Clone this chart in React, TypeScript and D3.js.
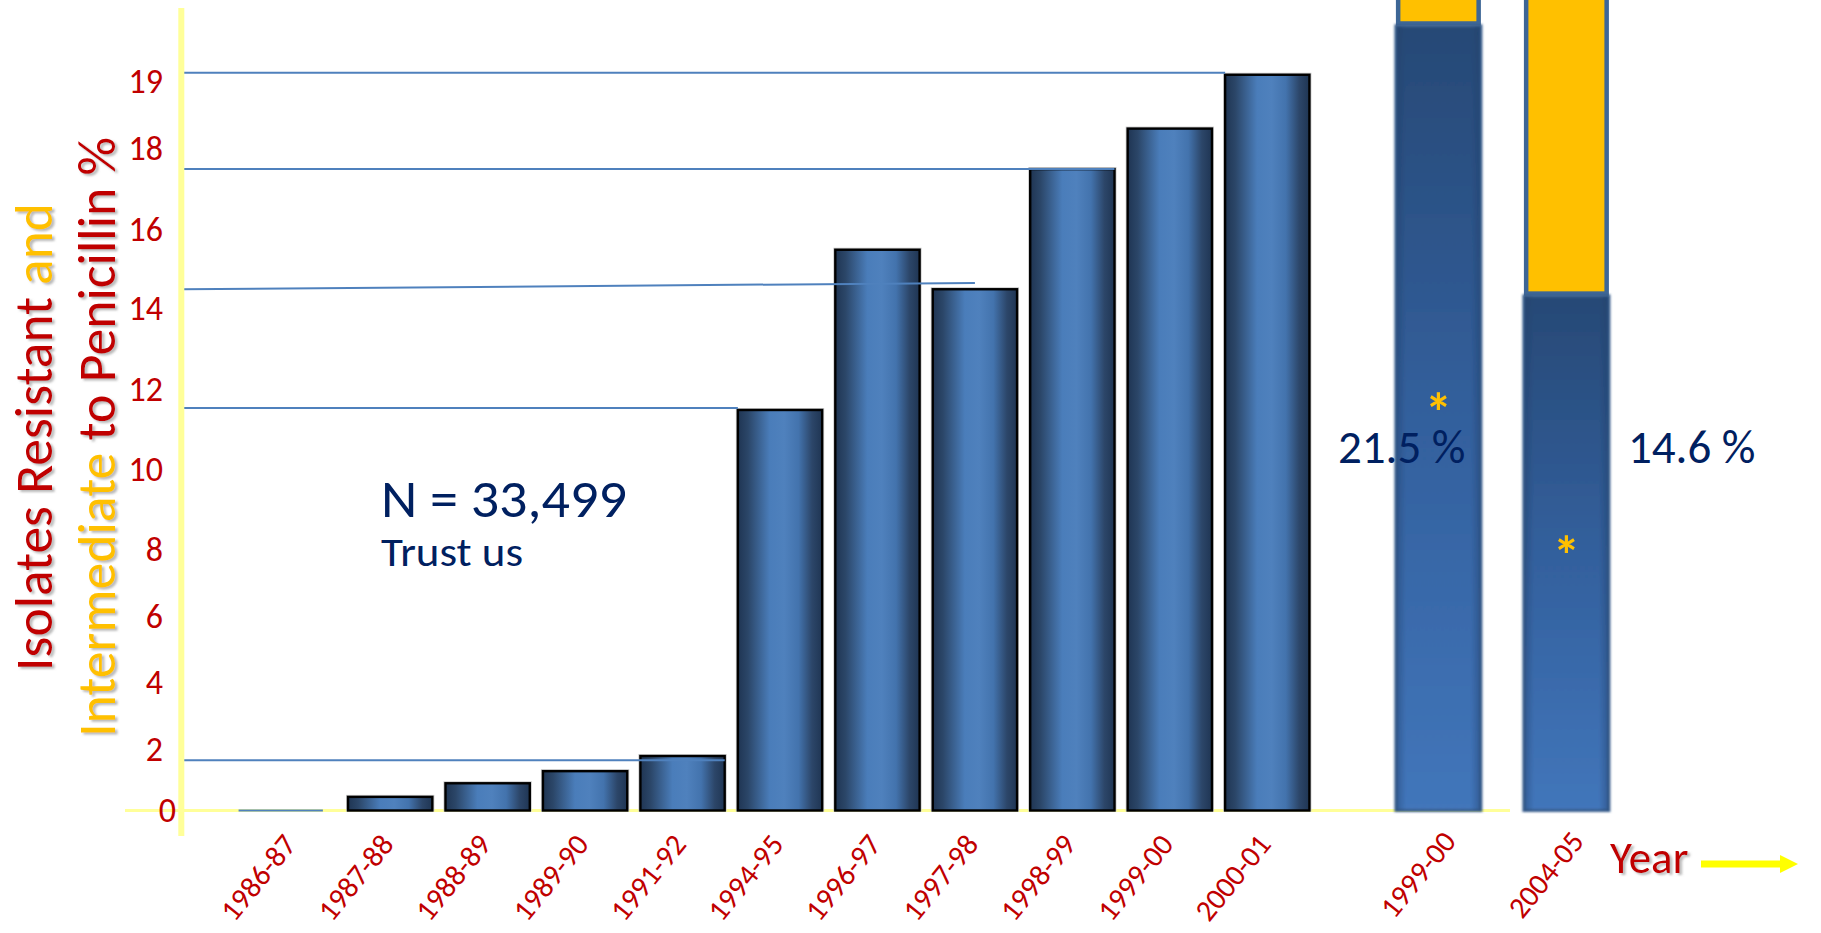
import React from 'react';
import * as d3 from 'd3';

// ---- data ----
const categories = ['1986-87', '1987-88', '1988-89', '1989-90', '1991-92', '1994-95', '1996-97', '1997-98', '1998-99', '1999-00', '2000-01'];
const values = [0, 0.45, 0.9, 1.3, 1.8, 11.5, 15.5, 14.5, 17.5, 18.3, 19.1];
const yTicks = [0, 2, 4, 6, 8, 10, 12, 14, 16, 18, 19];

// reference lines joining the axis to bar tops
const refLineCats = ['2000-01', '1998-99', '1997-98', '1994-95', '1991-92'];
const refLineFrom = [19.13, 17.5, 14.5, 11.55, 1.66];
const refLineTo = [19.13, 17.5, 14.66, 11.55, 1.66];
const refLineReach = [0, 1, 0.5, 0, 1];

// recent surveillance bars (resistant + intermediate)
const recentCats = ['1999-00', '2004-05'];
const recentResistant = [21.5, 14.1];
const recentIntermediate = [3.0, 16.6];
const recentLabels = ['21.5 %', '14.6 %'];
const asteriskCats = ['1999-00', '2004-05', '2004-05'];
const asteriskValues = [11.2, 7.3, 22.4];

const RED = '#C00000';
const GOLD = '#FFC000';
const NAVY = '#002060';
const FONT = "Carlito, 'Open Sans', 'Noto Sans', sans-serif";

export default function App() {
  const W = 1821;
  const H = 933;

  const y = d3
    .scaleLinear()
    .domain(yTicks)
    .range([810.5, 750, 683, 617, 550, 470, 390, 309, 230, 148.8, 81.5]);
  const x = d3.scaleBand().domain(categories).range([244, 1316]).paddingInner(0.135).paddingOuter(0.0675);
  const bw = x.bandwidth();

  const xR = d3.scaleBand().domain(recentCats).range([1374.4, 1630.4]).paddingInner(0.336).paddingOuter(0.168);
  const bwR = xR.bandwidth();
  const yR = d3.scaleLinear().domain([0, 20]).range([810.5, 80.5]);

  const axisX = 181.3;

  return (
    <svg
      width={W}
      height={H}
      viewBox={`0 0 ${W} ${H}`}
      style={{ position: 'absolute', left: 0, top: 0, background: '#fff', fontFamily: FONT }}
    >
      <defs>
        <linearGradient id="barGrad" x1="0" y1="0" x2="1" y2="0">
          <stop offset="0" stopColor="#1F3553" />
          <stop offset="0.12" stopColor="#2B4668" />
          <stop offset="0.38" stopColor="#4A7DBA" />
          <stop offset="0.55" stopColor="#4F81BD" />
          <stop offset="0.72" stopColor="#4373AD" />
          <stop offset="0.88" stopColor="#2C4669" />
          <stop offset="1" stopColor="#1F3553" />
        </linearGradient>
        <linearGradient id="blueV" x1="0" y1="0" x2="0" y2="1">
          <stop offset="0" stopColor="#284A77" />
          <stop offset="0.5" stopColor="#3462A0" />
          <stop offset="1" stopColor="#4479BF" />
        </linearGradient>
        <linearGradient id="edgeH" x1="0" y1="0" x2="1" y2="0">
          <stop offset="0" stopColor="#1d3a63" stopOpacity="0.45" />
          <stop offset="0.12" stopColor="#1d3a63" stopOpacity="0.05" />
          <stop offset="0.88" stopColor="#1d3a63" stopOpacity="0.05" />
          <stop offset="1" stopColor="#1d3a63" stopOpacity="0.45" />
        </linearGradient>
        <filter id="shadow" x="-10%" y="-10%" width="120%" height="120%">
          <feDropShadow dx="2.5" dy="2" stdDeviation="0.8" floodColor="#7f7f7f" floodOpacity="0.55" />
        </filter>
        <filter id="soft" x="-10%" y="-10%" width="120%" height="120%">
          <feGaussianBlur stdDeviation="0.8" />
        </filter>
      </defs>

      {/* y axis title */}
      <g filter="url(#shadow)">
        <text
          transform="translate(52,437) rotate(-90)"
          textAnchor="middle"
          fontSize={53}
          textLength={468}
          lengthAdjust="spacingAndGlyphs"
        >
          <tspan fill={RED}>Isolates Resistant </tspan>
          <tspan fill={GOLD}>and</tspan>
        </text>
        <text
          transform="translate(115,437) rotate(-90)"
          textAnchor="middle"
          fontSize={53}
          textLength={600}
          lengthAdjust="spacingAndGlyphs"
        >
          <tspan fill={GOLD}>Intermediate</tspan>
          <tspan fill={RED}> to Penicillin %</tspan>
        </text>
      </g>

      {/* baseline */}
      <line x1={125} x2={1510} y1={y(0)} y2={y(0)} stroke="#FFFF99" strokeWidth={3} />

      {/* main bars */}
      {categories.map((c, i) => {
        const v = values[i];
        const bx = x(c) as number;
        if (v === 0) {
          return <line key={c} x1={bx - 12} x2={bx + bw - 12} y1={y(0)} y2={y(0)} stroke="#4F81BD" strokeWidth={2} />;
        }
        return (
          <g key={c}>
            <rect x={bx - 1} y={y(v) - 1} width={bw + 2} height={y(0) - y(v) + 1} fill="none" stroke="#c8c8c8" strokeWidth={2} />
            <rect x={bx} y={y(v)} width={bw} height={y(0) - y(v)} fill="url(#barGrad)" stroke="#000" strokeWidth={2.4} />
          </g>
        );
      })}

      {/* reference lines */}
      {refLineCats.map((c, i) => (
        <line
          key={c}
          x1={axisX}
          x2={(x(c) as number) + bw * refLineReach[i]}
          y1={y(refLineFrom[i])}
          y2={y(refLineTo[i])}
          stroke="#4F81BD"
          strokeWidth={2}
        />
      ))}

      {/* yellow y axis */}
      <rect x={axisX - 3} y={8} width={6} height={828} fill="#FFFF99" />

      {/* y tick labels */}
      {yTicks.map((t) => (
        <text key={t} x={t === 0 ? 176 : 163} y={y(t)} dy="0.33em" textAnchor="end" fontSize={34} fill={RED}>
          {t}
        </text>
      ))}

      {/* x labels (main) */}
      {categories.map((c) => {
        const cx = (x(c) as number) + bw / 2;
        return (
          <text
            key={c}
            transform={`translate(${cx + 5},845) rotate(-51)`}
            textAnchor="end"
            fontSize={30}
            fill={RED}
          >
            {c}
          </text>
        );
      })}

      {/* recent stacked bars */}
      {recentCats.map((c, i) => {
        const bx = xR(c) as number;
        const r = recentResistant[i];
        const t = r + recentIntermediate[i];
        return (
          <g key={c}>
            <rect
              x={bx + 2.25}
              y={yR(t)}
              width={bwR - 4.5}
              height={yR(r) - yR(t) - 2.25}
              fill={GOLD}
              stroke="#3D6696"
              strokeWidth={4.5}
            />
            <g filter="url(#soft)">
              <rect x={bx} y={yR(r)} width={bwR} height={yR(0) - yR(r)} fill="url(#blueV)" stroke="#3A6090" strokeWidth={3} />
              <rect x={bx} y={yR(r)} width={bwR} height={yR(0) - yR(r)} fill="url(#edgeH)" />
            </g>
          </g>
        );
      })}

      {/* asterisks */}
      {asteriskCats.map((c, i) => (
        <text
          key={i}
          x={(xR(c) as number) + bwR / 2}
          y={yR(asteriskValues[i])}
          dy="0.55em"
          textAnchor="middle"
          fontSize={54}
          fontWeight="bold"
          fill={GOLD}
        >
          *
        </text>
      ))}

      {/* percent labels */}
      <text x={(xR(recentCats[0]) as number) - 58} y={463} fontSize={47} fill={NAVY}>
        {recentLabels[0]}
      </text>
      <text x={(xR(recentCats[1]) as number) + bwR + 19} y={463} fontSize={47} fill={NAVY}>
        {recentLabels[1]}
      </text>

      {/* x labels (recent) */}
      {recentCats.map((c) => {
        const cx = (xR(c) as number) + bwR / 2;
        return (
          <text
            key={c}
            transform={`translate(${cx + 19},842) rotate(-51)`}
            textAnchor="end"
            fontSize={30}
            fill={RED}
          >
            {c}
          </text>
        );
      })}

      {/* N annotation */}
      <text x={381} y={516.7} fontSize={54} fill={NAVY} textLength={246} lengthAdjust="spacingAndGlyphs">
        N = 33,499
      </text>
      <text x={381} y={566} fontSize={40} fill={NAVY} textLength={142} lengthAdjust="spacingAndGlyphs">
        Trust us
      </text>

      {/* Year arrow */}
      <g filter="url(#shadow)">
        <text x={1610} y={873} fontSize={45} fill={RED}>
          Year
        </text>
      </g>
      <line x1={1701} x2={1782} y1={864} y2={864} stroke="#FFFF00" strokeWidth={7} />
      <polygon points="1780,855 1798,864 1780,873" fill="#FFFF00" />
    </svg>
  );
}
